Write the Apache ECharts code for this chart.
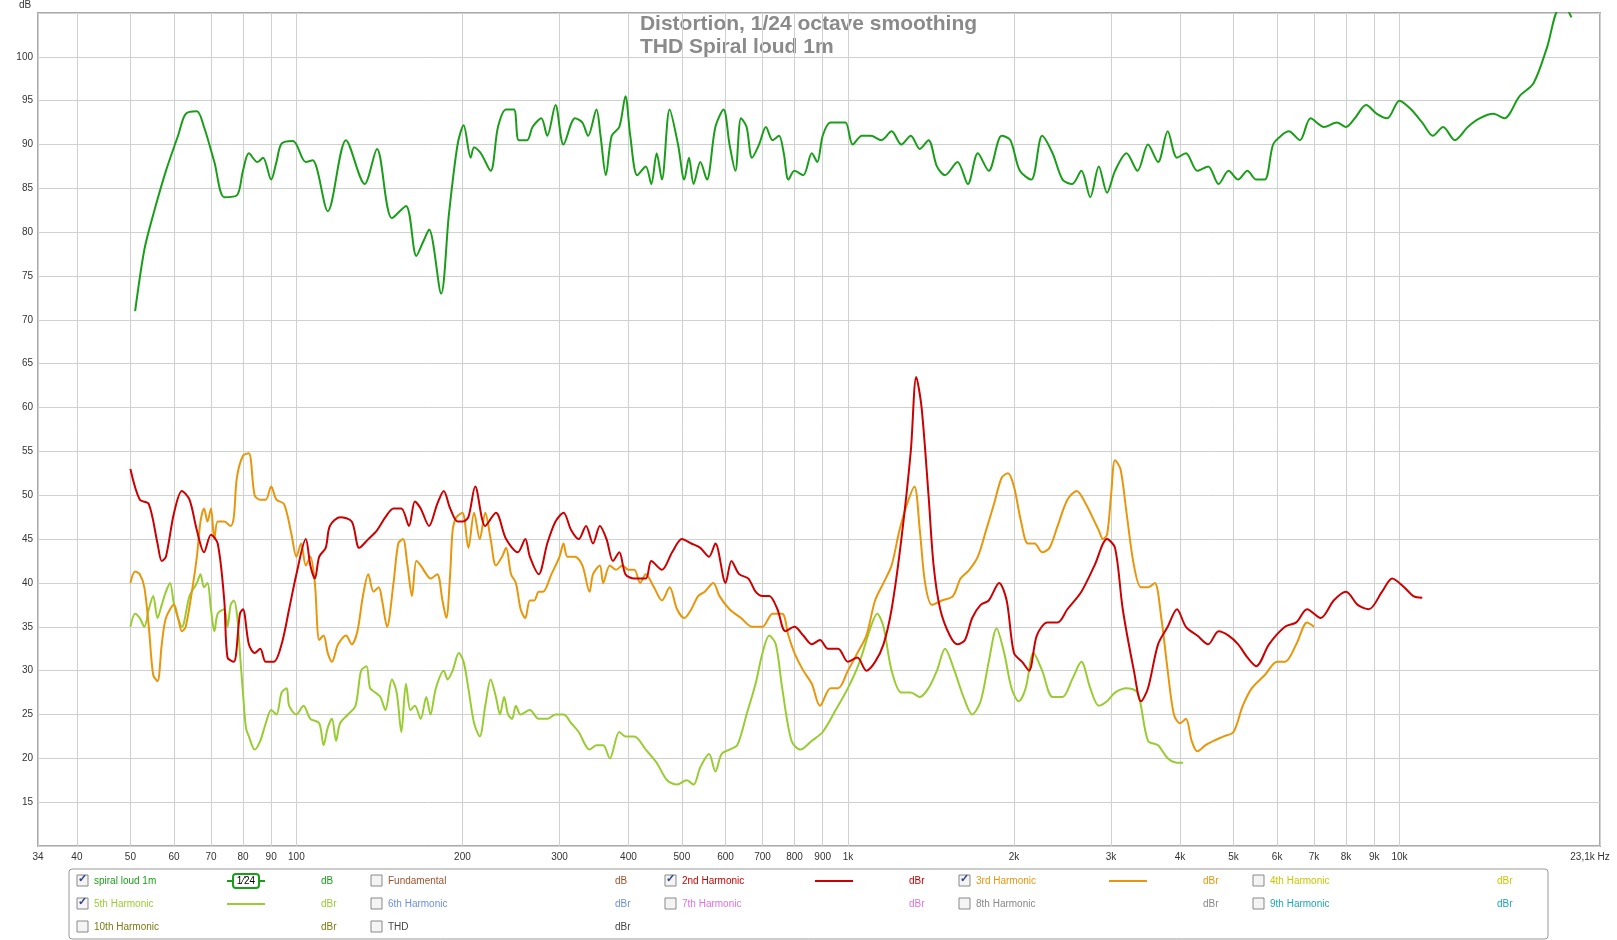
<!DOCTYPE html>
<html>
<head>
<meta charset="utf-8">
<script src="https://cdn.jsdelivr.net/npm/echarts@6/dist/echarts.min.js"></script>
<style>html,body{margin:0;background:#fff}#c{width:1617px;height:940px}</style>
</head>
<body>
<div id="c"></div>
<script>
// data: [Hz, dB]
const fundamental = [[51,71],[53,78],[55,82],[58,87],[61,91],[63,93.5],[66,93.8],[68,92],[71,88],[74,84],[78,84.2],[80,87],[82,89],[85,88],[87,88.5],[90,86],[92,88],[94,90.1],[98.6,90.4],[104,88],[107,88.2],[114,82.4],[123,90.5],[133,85.5],[140,89.5],[149,81.6],[158,83],[165,77.3],[170,79],[174,80.3],[183,73],[189,82],[196,90],[201,92.2],[207,88.5],[210,89.7],[216,89],[225,87],[232,92],[240,94],[248,94],[253,90.5],[262,90.5],[268,92],[278,93],[285,91],[295,94.5],[305,90],[320,93],[330,92.5],[338,91],[350,94],[356,91],[364,86.5],[373,91],[385,92],[395,95.5],[403,91],[415,86.5],[430,87.5],[440,85.5],[450,89],[460,86],[475,94],[492,90],[505,86],[515,88.5],[525,85.5],[540,88],[555,86],[575,92],[595,94],[610,90],[625,87],[640,93],[655,92],[670,88.5],[690,90],[710,92],[730,90.5],[750,91],[765,89],[780,86],[800,87],[830,86.5],[860,89],[880,88],[900,91],[930,92.5],[960,92.5],[990,92.5],[1020,90],[1060,91],[1100,91],[1150,90.5],[1200,91.5],[1250,90],[1300,91],[1350,89.5],[1400,90.5],[1450,87.5],[1500,86.5],[1580,88],[1650,85.5],[1720,89],[1800,87],[1900,91],[1970,90.5],[2050,87],[2150,86],[2250,91],[2350,89],[2450,86],[2550,85.5],[2650,87],[2750,84],[2850,87.5],[2950,84.5],[3050,87],[3200,89],[3350,87],[3500,90],[3650,88],[3800,91.5],[3950,88.5],[4100,89],[4300,87],[4500,87.5],[4700,85.5],[4900,87],[5100,86],[5300,87],[5500,86],[5700,86],[5900,90],[6100,91],[6300,91.5],[6600,90.5],[6900,93],[7300,92],[7700,92.5],[8000,92],[8300,93],[8700,94.5],[9100,93.5],[9500,93],[10000,95],[10500,94],[11000,92.5],[11500,91],[12000,92],[12600,90.5],[13300,92],[14000,93],[14800,93.5],[15500,93],[16500,95.5],[17500,97],[18500,101],[19500,105.5],[20000,105.5],[20500,104.5]];
const harmonic2 = [[50,53],[52,49.5],[54,49],[56,44.5],[57,42.5],[58,43],[60,48],[62,50.5],[64,49.5],[66,46],[68,43.5],[70,45.5],[72,44.5],[74,38],[75,31.5],[77,31],[79,36.5],[80,37],[82,33],[84,32],[86,32.5],[88,31],[91,31],[94,33],[97,37],[100,41],[104,45],[106,42],[108,40.5],[110,43],[113,44],[115,46.5],[120,47.5],[126,47],[130,44],[135,45],[140,46],[145,47.5],[150,48.5],[155,48.5],[160,46.5],[164,49.3],[168,48.5],[174,46.5],[180,49],[185,50.5],[190,48.5],[196,47],[200,47],[205,47.5],[211,51],[220,46.5],[230,48],[240,45],[252,43.5],[260,45],[265,43],[275,41],[285,44.5],[295,47],[305,48],[315,46],[325,45],[335,46.5],[345,44.5],[355,46.5],[365,45],[375,42.5],[385,43.5],[395,41],[410,40.5],[430,40.5],[440,42.5],[460,41.5],[480,43.5],[500,45],[520,44.5],[540,44],[560,43],[575,44.5],[600,40],[615,42.5],[635,41],[660,40.5],[680,39],[700,38.5],[720,38.5],[745,37],[770,34.5],[800,35],[830,34],[860,33],[890,33.5],[920,32.5],[960,32.5],[1000,31],[1040,31.5],[1080,30],[1120,31],[1160,33],[1200,37],[1250,45],[1300,55],[1330,63.5],[1360,60],[1400,50],[1430,42],[1470,37],[1530,34],[1580,33],[1630,33.5],[1680,36],[1740,37.5],[1800,38],[1880,40],[1940,38],[2000,32],[2070,31],[2130,30],[2200,34],[2300,35.5],[2400,35.5],[2500,37],[2650,39],[2800,42],[2950,45],[3050,44],[3150,37],[3300,30],[3400,26.5],[3500,28],[3650,33],[3800,35],[3950,37],[4100,35],[4300,34],[4500,33],[4700,34.5],[4900,34],[5100,33],[5300,31.5],[5500,30.5],[5800,33],[6200,35],[6500,35.5],[6800,37],[7200,36],[7600,38],[8000,39],[8400,37.5],[8800,37],[9300,39],[9700,40.5],[10200,39.5],[10600,38.5],[11000,38.3]];
const harmonic3 = [[50,40],[51,41.3],[52,41],[53,39.5],[54,35],[55,29.5],[56,28.8],[57,33],[58,36],[60,37.5],[61,36],[62,34.5],[63,35],[65,40],[66,43],[67,47],[68,48.5],[69,47],[70,48.5],[71,45],[72,47],[74,47],[76,46.5],[77,47.5],[78,52],[80,54.5],[82,54.8],[84,50],[86,49.5],[88,49.5],[90,51],[92,49.5],[95,49],[98,45.5],[100,43],[102,44.5],[104,42],[106,43],[108,40],[110,33.5],[112,34],[114,32],[116,31],[119,33],[123,34],[126,33],[129,34.5],[132,38.5],[135,41],[138,39],[141,39.5],[143,38],[146,35],[150,40],[153,44.5],[156,45],[159,42],[162,38.5],[165,42.5],[168,42],[172,41],[175,40.5],[180,41],[184,38],[187,36],[190,41],[192,46],[195,47.5],[200,48],[205,44],[210,48],[215,45],[220,48],[225,45],[230,42],[236,43],[240,44],[245,41],[250,40],[255,37],[260,36],[265,38],[270,38],[275,39],[280,39],[290,41],[300,43],[305,44.5],[310,43],[320,43],[330,42],[340,39],[345,41],[355,42],[360,40],[370,42],[380,41.5],[390,42],[400,41.5],[410,41.5],[420,40],[430,41],[445,39.5],[460,38],[475,39.5],[490,37],[505,36],[520,37],[535,38.5],[550,39],[570,40],[585,38.5],[610,37],[640,36],[670,35],[700,35],[730,36.5],[760,36.5],[780,34],[800,32],[830,30],[860,28.5],[890,26],[930,28],[960,28],[1000,30],[1040,32],[1080,34],[1120,38],[1160,40],[1200,42],[1240,46],[1280,49],[1320,51],[1350,46],[1380,40],[1420,37.5],[1480,38],[1550,38.5],[1600,40.5],[1660,41.5],[1720,43],[1780,46],[1840,49],[1900,52],[1950,52.5],[2000,51],[2060,47],[2120,44.5],[2180,44.5],[2250,43.5],[2320,44],[2400,46.5],[2500,49.5],[2600,50.5],[2700,49],[2800,47],[2850,46],[2900,45],[2950,45.5],[3000,50],[3050,54],[3120,53],[3200,48],[3300,42],[3400,39.5],[3500,39.5],[3600,40],[3700,36],[3800,30],[3900,25],[4000,24],[4100,24.5],[4200,22],[4300,20.8],[4450,21.5],[4600,22],[4800,22.5],[5000,23],[5200,26],[5400,28],[5700,29.5],[6000,31],[6200,31],[6500,33],[6800,35.5],[7000,35]];
const harmonic5 = [[50,35],[51,36.5],[52,36],[53,35],[54,37],[55,38.5],[56,36],[57,37.5],[58,39],[59,40],[60,37.5],[61,36],[62,35],[64,38.5],[66,40],[67,41],[68,39.5],[69,40],[70,37],[71,34.5],[72,36.5],[74,37],[75,35],[76,37.5],[77,38],[78,36.5],[79,32],[80,27.5],[81,23.5],[82,22.5],[84,21],[86,22],[88,24],[90,25.5],[92,25],[94,27.5],[96,28],[97,26],[100,25],[103,26],[106,24.5],[110,24],[112,21.5],[114,23.5],[116,24.5],[118,22],[120,24],[124,25],[128,26],[131,30],[134,30.5],[136,28],[139,27.5],[142,27],[145,25.5],[149,29],[152,27.5],[155,23],[158,28.5],[161,25.5],[164,26],[168,24.5],[172,27],[175,25],[179,28],[185,30],[188,29],[192,30],[197,32],[201,31],[205,28],[210,24],[215,22.5],[220,26],[225,29],[230,27],[234,25],[238,27],[242,25],[246,24.5],[250,26],[255,25],[265,25.5],[275,24.5],[285,24.5],[295,25],[305,25],[315,24],[325,23],[340,21],[350,21.5],[360,21.5],[370,20],[385,23],[395,22.5],[410,22.5],[430,21],[450,19.5],[470,17.5],[490,17],[510,17.5],[525,17],[540,19],[560,20.5],[575,18.5],[590,20.5],[610,21],[630,21.5],[655,25],[680,28.5],[700,32],[720,34],[740,33],[760,28],[790,22],[820,21],[860,22],[900,23],[950,25.5],[1000,28],[1050,31],[1100,35],[1130,36.5],[1160,35],[1200,30],[1250,27.5],[1300,27.5],[1350,27],[1400,28],[1450,30],[1500,32.5],[1560,30],[1620,27],[1680,25],[1740,26.5],[1800,31],[1860,34.8],[1920,32],[1980,28],[2040,26.5],[2100,28],[2170,32],[2250,30],[2350,27],[2450,27],[2550,29],[2650,31],[2750,28],[2850,26],[2950,26.5],[3050,27.5],[3200,28],[3350,27.5],[3500,22],[3650,21.5],[3800,20],[3950,19.5],[4050,19.5]];

const xTicks = [34,40,50,60,70,80,90,100,200,300,400,500,600,700,800,900,1000,2000,3000,4000,5000,6000,7000,8000,9000,10000,23100];
const xTickLabels = ['34','40','50','60','70','80','90','100','200','300','400','500','600','700','800','900','1k','2k','3k','4k','5k','6k','7k','8k','9k','10k','23,1k Hz'];

// legend rows: [name, colour, checked, unit, sample]
const legendItems = [
  ['spiral loud 1m','#1a9e1a',true,'dB','smooth'],['Fundamental','#a0522d',false,'dB',null],['2nd Harmonic','#cc0000',true,'dBr','line'],['3rd Harmonic','#e8960c',true,'dBr','line'],['4th Harmonic','#c8c800',false,'dBr',null],
  ['5th Harmonic','#99cc33',true,'dBr','line'],['6th Harmonic','#6b8fe0',false,'dBr',null],['7th Harmonic','#e070e0',false,'dBr',null],['8th Harmonic','#888888',false,'dBr',null],['9th Harmonic','#1aa8b8',false,'dBr',null],
  ['10th Harmonic','#7a7a10',false,'dBr',null],['THD','#444444',false,'dBr',null]
];

const chart = echarts.init(document.getElementById('c'));
const font = 'Arial, "Liberation Sans", sans-serif';

const graphic = [
  {type:'text',left:'center',top:13,style:{text:'Distortion, 1/24 octave smoothing\nTHD Spiral loud 1m',font:'bold 21px '+font,fill:'#8a8a8a',align:'center',lineHeight:23}},
  {type:'text',left:19,top:0,style:{text:'dB',font:'10px '+font,fill:'#333'}},
  {type:'rect',shape:{x:69,y:869,width:1479,height:70,r:3},style:{fill:'#fff',stroke:'#999',lineWidth:1}}
];
legendItems.forEach((it, i) => {
  const col = i % 5, row = Math.floor(i / 5);
  const x = 77 + col * 294, y = 881 + row * 23;
  graphic.push({type:'rect',shape:{x:x,y:y-6,width:11,height:11},style:{fill:'#f4f4f4',stroke:'#888',lineWidth:1}});
  if (it[2]) graphic.push({type:'text',x:x+1,y:y-8,style:{text:'✓',font:'bold 11px '+font,fill:'#334488'}});
  graphic.push({type:'text',x:x+17,y:y,style:{text:it[0],font:'10px '+font,fill:it[1],verticalAlign:'middle'}});
  graphic.push({type:'text',x:x+244,y:y,style:{text:it[3],font:'10px '+font,fill:it[1],verticalAlign:'middle'}});
  if (it[4]) {
    graphic.push({type:'line',shape:{x1:x+150,y1:y,x2:x+188,y2:y},style:{stroke:it[1],lineWidth:2}});
    if (it[4] === 'smooth') {
      graphic.push({type:'rect',shape:{x:x+156,y:y-7,width:26,height:14,r:3},style:{fill:'#fff',stroke:it[1],lineWidth:2}});
      graphic.push({type:'text',x:x+169,y:y,style:{text:'1⁄24',font:'10px '+font,fill:'#000',align:'center',verticalAlign:'middle'}});
    }
  }
});

const line = (name, data, color) => ({name, type:'line', data, showSymbol:false, smooth:0.3, clip:true,
  lineStyle:{color, width:2}, itemStyle:{color}, z:5});

chart.setOption({
  animation:false,
  textStyle:{fontFamily:font},
  grid:{left:38,right:17,top:13,bottom:94,show:true,borderColor:'#aaa',borderWidth:2,backgroundColor:'#fff'},
  xAxis:{type:'log',logBase:10,min:34,max:23100,axisLabel:{show:false},axisTick:{show:false},splitLine:{show:false},axisLine:{show:false}},
  yAxis:{type:'value',min:10,max:105,interval:5,axisLine:{show:false},axisTick:{show:false},
    axisLabel:{fontSize:10,color:'#333',margin:5,formatter:v => (v >= 15 && v <= 100) ? v : ''},
    splitLine:{lineStyle:{color:'#d0d0d0',width:1}}},
  graphic,
  series:[
    {type:'line',data:[],silent:true,markLine:{symbol:'none',silent:true,animation:false,
      lineStyle:{color:'#d0d0d0',type:'solid',width:1},
      label:{position:'start',distance:6,fontSize:10,color:'#333',formatter:p => xTickLabels[xTicks.indexOf(p.value)]},
      data:xTicks.map((v, i) => i === xTicks.length - 1 ? {xAxis:v, label:{offset:[-10,0]}} : {xAxis:v})}},
    line('5th Harmonic', harmonic5, '#99cc33'),
    line('3rd Harmonic', harmonic3, '#e8960c'),
    line('2nd Harmonic', harmonic2, '#cc0000'),
    line('spiral loud 1m', fundamental, '#1a9e1a')
  ]
});
</script>
</body>
</html>
